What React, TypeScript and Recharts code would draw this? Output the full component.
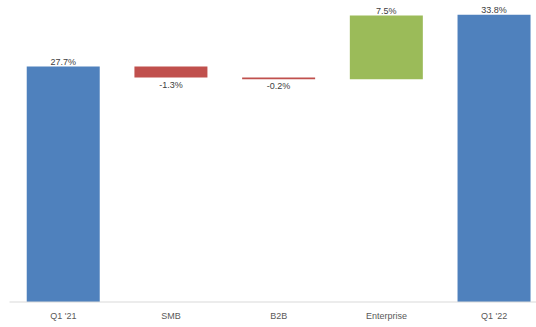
import { BarChart, Bar, XAxis, YAxis, Cell, LabelList } from "recharts";

const categories = ["Q1 '21", "SMB", "B2B", "Enterprise", "Q1 '22"];
const changes = [27.7, -1.3, -0.2, 7.5, 33.8];
const kinds = ["total", "step", "step", "step", "total"];

const colors: Record<string, string> = {
  total: "#4f81bd",
  up: "#9bbb59",
  down: "#c0504d",
};

// running totals give each step its floating range
let running = 0;
const data = categories.map((name, i) => {
  const v = changes[i];
  let range: [number, number];
  let tone: string;
  if (kinds[i] === "total") {
    range = [0, v];
    running = v;
    tone = "total";
  } else {
    const next = running + v;
    range = [Math.min(running, next), Math.max(running, next)];
    running = next;
    tone = v < 0 ? "down" : "up";
  }
  return { name, range, value: v, tone };
});

const font = "'Liberation Sans', Arial, sans-serif";

const ValueLabel = (props: any) => {
  const { x, y, width, height, index } = props;
  const d = data[index];
  const cx = x + width / 2;
  const below = d.value < 0;
  const ty = below ? y + height + 10 : y - 2;
  return (
    <text
      x={cx}
      y={ty}
      textAnchor="middle"
      fontSize={9}
      fontFamily={font}
      fill="#404040"
    >
      {`${d.value.toFixed(1)}%`}
    </text>
  );
};

export default function App() {
  return (
    <div
      style={{
        position: "fixed",
        top: 0,
        left: 0,
        width: 536,
        height: 327,
        overflow: "hidden",
        background: "#fff",
      }}
    >
      <BarChart
        width={548}
        height={327}
        data={data}
        margin={{ top: 4.5, right: 0, bottom: 0, left: 9.5 }}
        barCategoryGap="16%"
      >
        <XAxis
          dataKey="name"
          height={25}
          tickLine={false}
          tickMargin={5}
          axisLine={{ stroke: "#d9d9d9" }}
          tick={{ fontSize: 9, fill: "#595959", fontFamily: font }}
          interval={0}
        />
        <YAxis hide domain={[0, 35]} />
        <Bar dataKey="range" isAnimationActive={false}>
          {data.map((d, i) => (
            <Cell key={i} fill={colors[d.tone]} />
          ))}
          <LabelList dataKey="value" content={<ValueLabel />} />
        </Bar>
      </BarChart>
    </div>
  );
}
